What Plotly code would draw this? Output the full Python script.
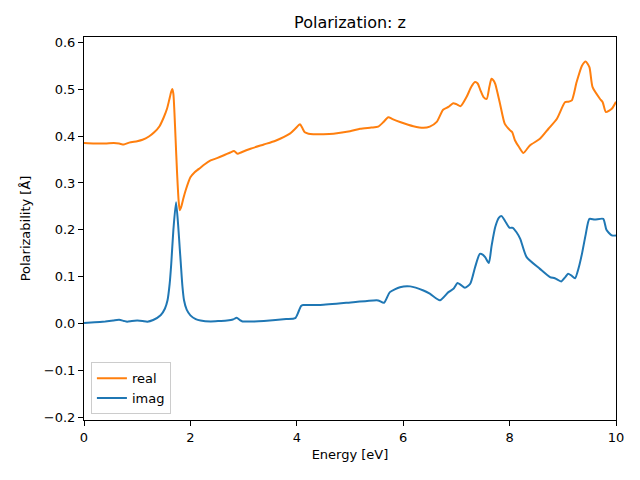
import plotly.graph_objects as go

real_x = [0.0, 0.2, 0.4, 0.56, 0.66, 0.75, 0.85, 1.0, 1.10, 1.22, 1.32, 1.42, 1.50, 1.56, 1.60, 1.64, 1.66, 1.68, 1.70, 1.72, 1.75, 1.78, 1.80, 1.83, 1.87, 1.91, 2.00, 2.08, 2.16, 2.27, 2.38, 2.50, 2.63, 2.75, 2.82, 2.89, 2.95, 3.13, 3.38, 3.60, 3.87, 3.97, 4.06, 4.10, 4.15, 4.22, 4.31, 4.50, 4.69, 5.00, 5.19, 5.40, 5.53, 5.63, 5.72, 5.80, 5.94, 6.19, 6.38, 6.50, 6.63, 6.75, 6.85, 6.94, 7.00, 7.08, 7.19, 7.28, 7.35, 7.40, 7.45, 7.51, 7.57, 7.62, 7.66, 7.70, 7.73, 7.82, 7.91, 8.01, 8.05, 8.10, 8.18, 8.26, 8.38, 8.57, 8.73, 8.89, 9.04, 9.10, 9.17, 9.26, 9.36, 9.43, 9.50, 9.56, 9.70, 9.75, 9.81, 9.92, 10.0]
real_y = [0.385, 0.384, 0.384, 0.385, 0.384, 0.382, 0.386, 0.389, 0.392, 0.399, 0.408, 0.421, 0.440, 0.458, 0.476, 0.495, 0.500, 0.490, 0.450, 0.398, 0.320, 0.260, 0.242, 0.250, 0.268, 0.284, 0.312, 0.323, 0.330, 0.340, 0.348, 0.353, 0.359, 0.365, 0.368, 0.362, 0.365, 0.373, 0.382, 0.390, 0.405, 0.4155, 0.425, 0.418, 0.408, 0.405, 0.404, 0.404, 0.405, 0.410, 0.4155, 0.418, 0.420, 0.430, 0.440, 0.436, 0.430, 0.421, 0.4175, 0.420, 0.430, 0.456, 0.462, 0.470, 0.468, 0.4637, 0.483, 0.505, 0.515, 0.512, 0.498, 0.483, 0.479, 0.505, 0.522, 0.518, 0.511, 0.469, 0.426, 0.412, 0.408, 0.391, 0.376, 0.364, 0.380, 0.394, 0.4155, 0.437, 0.472, 0.473, 0.476, 0.515, 0.550, 0.559, 0.547, 0.504, 0.479, 0.472, 0.451, 0.458, 0.473]

imag_x = [0.0, 0.2, 0.4, 0.55, 0.66, 0.75, 0.81, 0.90, 1.00, 1.10, 1.19, 1.30, 1.44, 1.52, 1.57, 1.61, 1.64, 1.68, 1.73, 1.77, 1.80, 1.82, 1.85, 1.88, 1.93, 2.00, 2.10, 2.19, 2.38, 2.55, 2.69, 2.80, 2.87, 2.93, 2.98, 3.20, 3.38, 3.60, 3.80, 3.97, 4.03, 4.08, 4.12, 4.44, 5.06, 5.44, 5.53, 5.64, 5.75, 5.94, 6.13, 6.38, 6.50, 6.69, 6.85, 6.95, 7.02, 7.08, 7.16, 7.26, 7.35, 7.44, 7.50, 7.54, 7.61, 7.66, 7.73, 7.80, 7.85, 7.92, 8.00, 8.06, 8.13, 8.20, 8.32, 8.57, 8.76, 8.85, 8.97, 9.05, 9.10, 9.16, 9.23, 9.30, 9.36, 9.43, 9.50, 9.60, 9.76, 9.82, 9.92, 10.0]
imag_y = [0.0015, 0.003, 0.005, 0.007, 0.0085, 0.006, 0.0045, 0.006, 0.007, 0.006, 0.0045, 0.008, 0.018, 0.032, 0.050, 0.085, 0.128, 0.200, 0.259, 0.210, 0.160, 0.128, 0.080, 0.050, 0.030, 0.018, 0.010, 0.007, 0.005, 0.006, 0.007, 0.009, 0.013, 0.008, 0.005, 0.005, 0.006, 0.008, 0.010, 0.012, 0.025, 0.038, 0.040, 0.040, 0.046, 0.0498, 0.0498, 0.0447, 0.0675, 0.078, 0.0797, 0.071, 0.064, 0.050, 0.0675, 0.075, 0.0867, 0.083, 0.0767, 0.0852, 0.120, 0.149, 0.147, 0.142, 0.1293, 0.165, 0.206, 0.226, 0.2294, 0.218, 0.2045, 0.2045, 0.195, 0.181, 0.142, 0.117, 0.0995, 0.097, 0.0903, 0.100, 0.1065, 0.103, 0.097, 0.120, 0.149, 0.190, 0.2236, 0.222, 0.2236, 0.2002, 0.1883, 0.188]

x_ticks = [0, 2, 4, 6, 8, 10]
y_ticks = [-0.2, -0.1, 0.0, 0.1, 0.2, 0.3, 0.4, 0.5, 0.6]

FONT = "DejaVu Sans"
W, H = 632, 472  # page body adds an 8px offset

fig = go.Figure()
fig.add_trace(go.Scatter(x=real_x, y=real_y, mode="lines", name="real",
                         line=dict(color="#ff7f0e", width=2, shape="spline", smoothing=0.6)))
fig.add_trace(go.Scatter(x=imag_x, y=imag_y, mode="lines", name="imag",
                         line=dict(color="#1f77b4", width=2, shape="spline", smoothing=0.6)))

axis_common = dict(showline=True, linecolor="black", linewidth=1, mirror=True,
                   ticks="outside", ticklen=5, tickwidth=1, tickcolor="black",
                   showgrid=False, zeroline=False,
                   tickfont=dict(family=FONT, size=13, color="black"))

fig.update_layout(
    width=W, height=H,
    margin=dict(l=76, r=24, t=29, b=60),
    paper_bgcolor="white", plot_bgcolor="white",
    font=dict(family=FONT, size=13, color="black"),
    title=dict(text="Polarization: z", x=0.5, xref="paper", xanchor="center",
               y=1 - 14 / H, yref="container", yanchor="middle",
               font=dict(family=FONT, size=16, color="black")),
    xaxis=dict(range=[0, 10], tickvals=x_ticks, ticktext=[str(t) for t in x_ticks],
               title=dict(text="Energy [eV]", font=dict(family=FONT, size=13), standoff=6),
               **axis_common),
    yaxis=dict(range=[-0.205, 0.611], tickvals=y_ticks, tickformat=".1f",
               title=dict(text="Polarizability [Å]", font=dict(family=FONT, size=13), standoff=10),
               **axis_common),
    legend=dict(x=0.013, y=0.015, xanchor="left", yanchor="bottom",
                bgcolor="rgba(255,255,255,0.8)", bordercolor="#cccccc", borderwidth=1,
                font=dict(family=FONT, size=13), tracegroupgap=0),
    showlegend=True,
)

fig.write_html("out.html")
